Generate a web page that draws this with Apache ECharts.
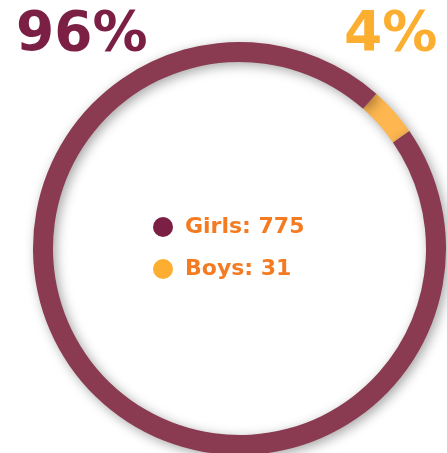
<!DOCTYPE html>
<html>
<head>
<meta charset="utf-8">
<script src="https://cdn.jsdelivr.net/npm/echarts@6/dist/echarts.min.js"></script>
<style>
  html, body { margin: 0; padding: 0; background: #fff; }
  #chart { width: 447px; height: 453px; }
</style>
</head>
<body>
<div id="chart"></div>
<script>
// data
let categories = ['Girls', 'Boys']
let counts = [775, 31]
let ringColors = ['#8a3b52', '#fdb650']
let dotColors = ['#7b1f45', '#fcae30']

let total = counts.reduce((a, b) => a + b, 0)
let percents = counts.map(v => Math.round(v / total * 100))

let chartDom = document.getElementById('chart')
let myChart = echarts.init(chartDom)

// boys slice drawn first so it lands at the upper right
let pieData = [
    { name: categories[1], value: counts[1], itemStyle: { color: ringColors[1] } },
    { name: categories[0], value: counts[0], itemStyle: { color: ringColors[0] } }
]

let option = {
    animation: false,
    legend: {
        orient: 'vertical',
        left: 148,
        top: 211,
        icon: 'circle',
        itemWidth: 20,
        itemHeight: 20,
        itemGap: 20,
        selectedMode: false,
        data: categories.map((c, i) => ({ name: c, itemStyle: { color: dotColors[i] } })),
        formatter: name => name + ': ' + counts[categories.indexOf(name)],
        textStyle: {
            color: '#f47b22',
            fontSize: 22,
            lineHeight: 20,
            fontWeight: 'bold',
            fontFamily: 'DejaVu Sans',
            padding: [0, 0, 0, 7]
        }
    },
    graphic: [
        {
            type: 'text',
            left: 16,
            top: 8,
            style: {
                text: percents[0] + '%',
                fill: '#7b1f45',
                font: 'bold 55px "DejaVu Sans"'
            }
        },
        {
            type: 'text',
            left: 344,
            top: 8,
            style: {
                text: percents[1] + '%',
                fill: '#fcae30',
                font: 'bold 55px "DejaVu Sans"'
            }
        }
    ],
    series: [
        {
            type: 'pie',
            center: [239.5, 248.5],
            radius: [186.5, 206.5],
            startAngle: 48.5,
            clockwise: true,
            label: { show: false },
            labelLine: { show: false },
            emphasis: { disabled: true },
            itemStyle: {
                borderWidth: 0,
                shadowBlur: 12,
                shadowColor: 'rgba(0,0,0,0.35)',
                shadowOffsetX: 3,
                shadowOffsetY: 3
            },
            data: pieData
        }
    ]
}

option && myChart.setOption(option)
</script>
</body>
</html>
